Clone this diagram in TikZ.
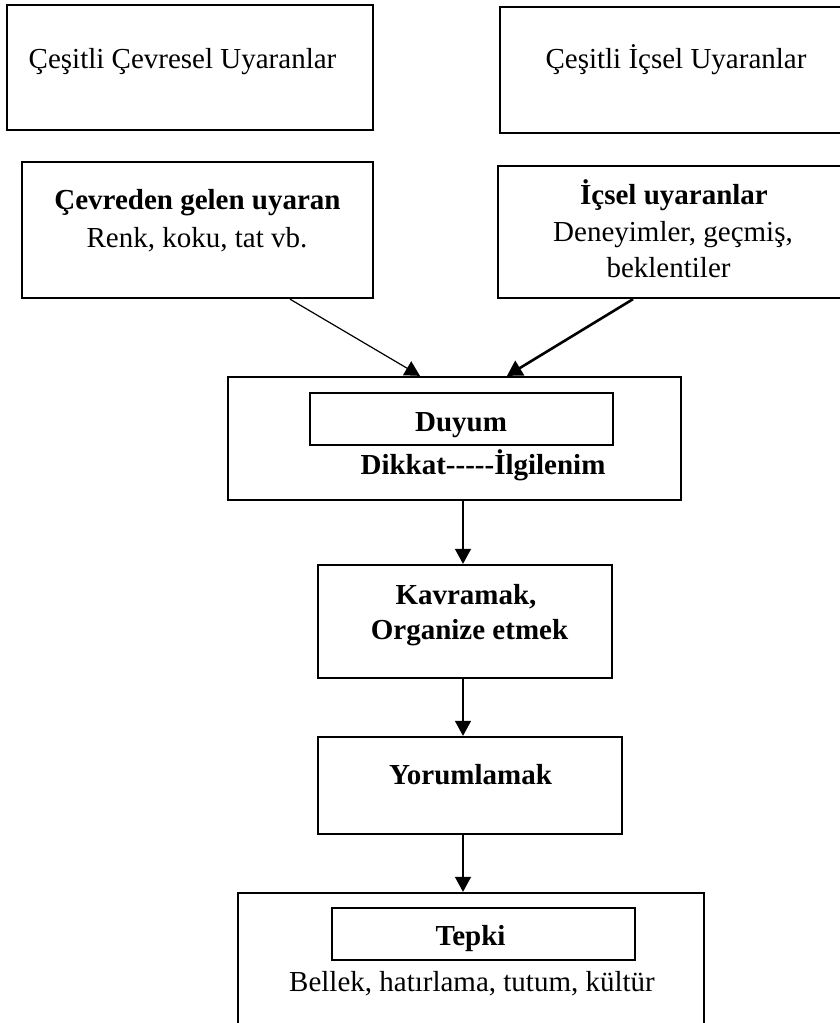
\documentclass[tikz,border=0pt]{standalone}
\usepackage{fontspec}
\setmainfont{Liberation Serif}
\usetikzlibrary{arrows.meta}
\tikzset{
  box/.style={draw=black, line width=2.3pt, inner sep=0pt, fill=none},
  lbl/.style={anchor=base, inner sep=0pt, font=\fontsize{29}{36}\selectfont},
  blbl/.style={lbl, font=\fontsize{29}{36}\selectfont\bfseries},
  arr/.style={-{Triangle[width=16pt,length=15pt]}, line width=1.2pt},
  arrthick/.style={-{Triangle[width=17pt,length=15pt]}, line width=2.6pt}
}
\begin{document}
\begin{tikzpicture}[x=1pt,y=-1pt]
\useasboundingbox (0,0) rectangle (840,1023);
\fill[white] (0,0) rectangle (840,1023);
% boxes
\node[box, minimum width=366, minimum height=125] (b1) at (190,67.5) {};
\node[box, minimum width=350, minimum height=126] (b2) at (675,70) {};
\node[box, minimum width=351, minimum height=136] (b3) at (197.5,230) {};
\node[box, minimum width=352, minimum height=132] (b4) at (674,232) {};
\node[box, minimum width=453, minimum height=123] (d) at (454.5,438.5) {};
\node[box, minimum width=303, minimum height=52] (di) at (461.5,419) {};
\node[box, minimum width=294, minimum height=113] (k) at (465,621.5) {};
\node[box, minimum width=304, minimum height=97] (y) at (470,785.5) {};
\node[box, minimum width=466, minimum height=147] (t) at (471,966.5) {};
\node[box, minimum width=303, minimum height=52] (ti) at (483.5,934) {};
% texts
\node[lbl] (t1) at (182.5,68) {Çeşitli Çevresel Uyaranlar};
\node[lbl] (t2) at (676,68) {Çeşitli İçsel Uyaranlar};
\node[blbl] (t3a) at (197.5,209) {Çevreden gelen uyaran};
\node[lbl] (t3b) at (197,247) {Renk, koku, tat vb.};
\node[blbl] (t4a) at (674,204) {İçsel uyaranlar};
\node[lbl] (t4b) at (673,241) {Deneyimler, geçmiş,};
\node[lbl] (t4c) at (668.5,277) {beklentiler};
\node[blbl] (t5a) at (461,431) {Duyum};
\node[blbl] (t5b) at (483,474) {Dikkat-{}-{}-{}-{}-İlgilenim};
\node[blbl] (t6a) at (466,604) {Kavramak,};
\node[blbl] (t6b) at (469.5,639) {Organize etmek};
\node[blbl] (t7) at (470.5,784) {Yorumlamak};
\node[blbl] (t8a) at (470.5,945) {Tepki};
\node[lbl] (t8b) at (472,991) {Bellek, hatırlama, tutum, kültür};
% connectors
\draw[arr] ([xshift=92.5]b3.south) -- ([xshift=-34.5]d.north);
\draw[arrthick] ([xshift=-41]b4.south) -- ([xshift=52.5]d.north);
\draw[arr] ([xshift=8.5]d.south) -- ([xshift=8.5]d.south |- k.north);
\draw[arr] ([xshift=-2]k.south) -- ([xshift=-2]k.south |- y.north);
\draw[arr] ([xshift=-7]y.south) -- ([xshift=-7]y.south |- t.north);
\end{tikzpicture}
\end{document}
